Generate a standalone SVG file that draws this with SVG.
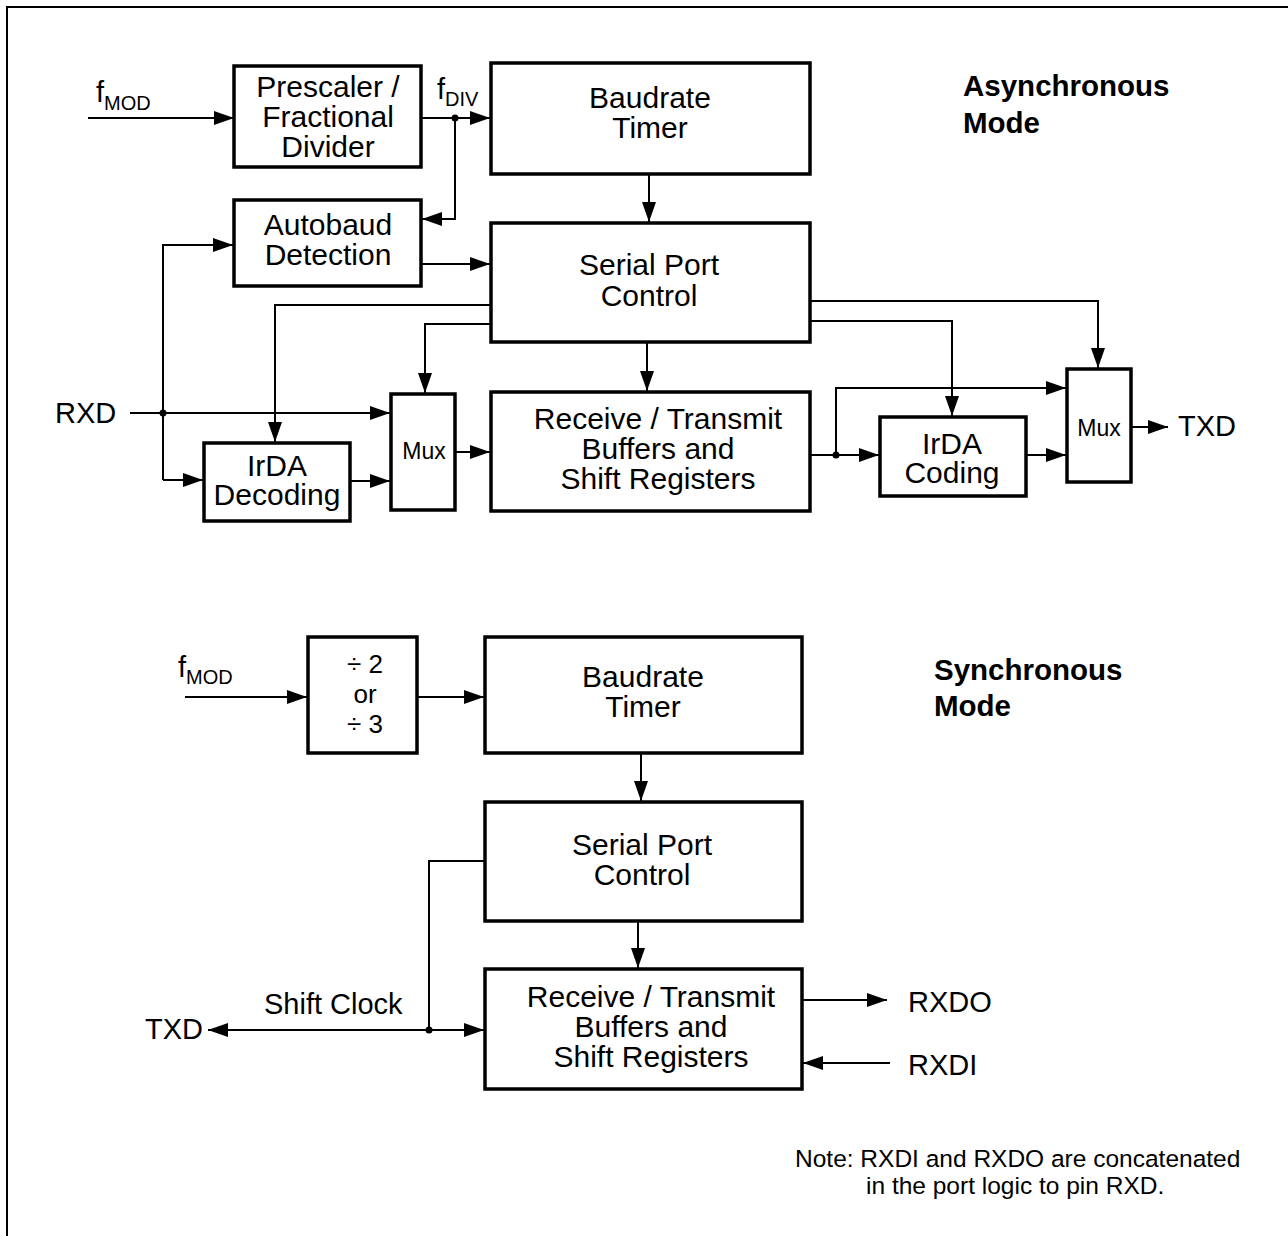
<svg xmlns="http://www.w3.org/2000/svg" width="1288" height="1236" viewBox="0 0 1288 1236">
<style>
.box{fill:#fff;stroke:#000;stroke-width:3.5}
.t{font-family:"Liberation Sans",Arial,sans-serif;font-size:30px;fill:#000;text-anchor:middle}
.ts{font-family:"Liberation Sans",Arial,sans-serif;font-size:23px;fill:#000;text-anchor:middle}
.tl{font-family:"Liberation Sans",Arial,sans-serif;font-size:29px;fill:#000}
.sub{font-size:20px}
.b{font-family:"Liberation Sans",Arial,sans-serif;font-size:29.5px;font-weight:bold;fill:#000}
.note{font-family:"Liberation Sans",Arial,sans-serif;font-size:24.5px;fill:#000}
.c{fill:none;stroke:#000;stroke-width:2}
</style>
<defs>
<marker id="a" viewBox="0 0 20 14" refX="20" refY="7" markerWidth="20" markerHeight="14" markerUnits="userSpaceOnUse" orient="auto">
<path d="M0,0 L20,7 L0,14 Z" fill="#000"/>
</marker>
</defs>
<path d="M7,1236 V7 H1288" fill="none" stroke="#000" stroke-width="2"/>

<g id="async-label"><text class="b" x="963" y="96">Asynchronous</text><text class="b" x="963" y="133">Mode</text></g>
<g id="sync-label"><text class="b" x="934" y="680">Synchronous</text><text class="b" x="934" y="716">Mode</text></g>

<g id="prescaler"><rect class="box" x="234" y="66" width="187" height="101"/>
<text class="t" x="328" y="97">Prescaler /</text><text class="t" x="328" y="127">Fractional</text><text class="t" x="328" y="157">Divider</text></g>
<g id="baudrate-async"><rect class="box" x="491" y="63" width="319" height="111"/>
<text class="t" x="650" y="108">Baudrate</text><text class="t" x="650" y="138">Timer</text></g>
<g id="autobaud"><rect class="box" x="234" y="200" width="187" height="86"/>
<text class="t" x="328" y="235">Autobaud</text><text class="t" x="328" y="265">Detection</text></g>
<g id="serial-async"><rect class="box" x="491" y="223" width="319" height="119"/>
<text class="t" x="649" y="275">Serial Port</text><text class="t" x="649" y="306">Control</text></g>
<g id="irda-dec"><rect class="box" x="204" y="443" width="146" height="78"/>
<text class="t" x="277" y="476">IrDA</text><text class="t" x="277" y="505">Decoding</text></g>
<g id="mux-left"><rect class="box" x="391" y="394" width="64" height="116"/>
<text class="ts" x="424" y="459">Mux</text></g>
<g id="rt-async"><rect class="box" x="491" y="392" width="319" height="119"/>
<text class="t" x="658" y="429">Receive / Transmit</text><text class="t" x="658" y="459">Buffers and</text><text class="t" x="658" y="489">Shift Registers</text></g>
<g id="irda-cod"><rect class="box" x="880" y="417" width="146" height="79"/>
<text class="t" x="952" y="454">IrDA</text><text class="t" x="952" y="483">Coding</text></g>
<g id="mux-right"><rect class="box" x="1067" y="369" width="64" height="113"/>
<text class="ts" x="1099" y="436">Mux</text></g>

<g id="div"><rect class="box" x="308" y="637" width="109" height="116"/>
<text class="t" x="365" y="673" style="font-size:26px">÷ 2</text><text class="t" x="365" y="703" style="font-size:26px">or</text><text class="t" x="365" y="733" style="font-size:26px">÷ 3</text></g>
<g id="baudrate-sync"><rect class="box" x="485" y="637" width="317" height="116"/>
<text class="t" x="643" y="687">Baudrate</text><text class="t" x="643" y="717">Timer</text></g>
<g id="serial-sync"><rect class="box" x="485" y="802" width="317" height="119"/>
<text class="t" x="642" y="855">Serial Port</text><text class="t" x="642" y="885">Control</text></g>
<g id="rt-sync"><rect class="box" x="485" y="969" width="317" height="120"/>
<text class="t" x="651" y="1007">Receive / Transmit</text><text class="t" x="651" y="1037">Buffers and</text><text class="t" x="651" y="1067">Shift Registers</text></g>

<g id="labels">
<text class="tl" x="96" y="102">f<tspan class="sub" dy="8">MOD</tspan></text>
<text class="tl" x="437" y="99">f<tspan class="sub" dy="7">DIV</tspan></text>
<text class="tl" x="55" y="423">RXD</text>
<text class="tl" x="1178" y="436">TXD</text>
<text class="tl" x="178" y="677">f<tspan class="sub" dy="7">MOD</tspan></text>
<text class="tl" x="264" y="1014">Shift Clock</text>
<text class="tl" x="145" y="1039">TXD</text>
<text class="tl" x="908" y="1012">RXDO</text>
<text class="tl" x="908" y="1075">RXDI</text>
<text class="note" x="795" y="1167">Note: RXDI and RXDO are concatenated</text>
<text class="note" x="866" y="1194">in the port logic to pin RXD.</text>
</g>

<g id="connectors">
<path class="c" d="M88,118 H234" marker-end="url(#a)"/>
<path class="c" d="M421,118 H490" marker-end="url(#a)"/>
<path class="c" d="M455,118 V219 H422" marker-end="url(#a)"/>
<path class="c" d="M649,174 V222" marker-end="url(#a)"/>
<path class="c" d="M421,264 H490" marker-end="url(#a)"/>
<path class="c" d="M163,480 V245 H233" marker-end="url(#a)"/>
<path class="c" d="M130,413 H390" marker-end="url(#a)"/>
<path class="c" d="M163,480 H203" marker-end="url(#a)"/>
<path class="c" d="M350,481 H390" marker-end="url(#a)"/>
<path class="c" d="M491,305 H275 V442" marker-end="url(#a)"/>
<path class="c" d="M491,324 H425 V393" marker-end="url(#a)"/>
<path class="c" d="M455,452 H490" marker-end="url(#a)"/>
<path class="c" d="M647,342 V391" marker-end="url(#a)"/>
<path class="c" d="M810,301 H1098 V368" marker-end="url(#a)"/>
<path class="c" d="M810,321 H952 V416" marker-end="url(#a)"/>
<path class="c" d="M810,455 H879" marker-end="url(#a)"/>
<path class="c" d="M836,455 V388 H1066" marker-end="url(#a)"/>
<path class="c" d="M1026,455 H1066" marker-end="url(#a)"/>
<path class="c" d="M1131,427 H1168" marker-end="url(#a)"/>
<circle cx="455" cy="118" r="3.5"/>
<circle cx="163" cy="413" r="3.5"/>
<circle cx="836" cy="455" r="3.5"/>

<path class="c" d="M185,697 H307" marker-end="url(#a)"/>
<path class="c" d="M417,697 H484" marker-end="url(#a)"/>
<path class="c" d="M641,753 V801" marker-end="url(#a)"/>
<path class="c" d="M638,921 V968" marker-end="url(#a)"/>
<path class="c" d="M485,861 H429 V1030 H484" marker-end="url(#a)"/>
<path class="c" d="M429,1030 H208" marker-end="url(#a)"/>
<path class="c" d="M802,1000 H887" marker-end="url(#a)"/>
<path class="c" d="M890,1063 H803" marker-end="url(#a)"/>
<circle cx="429" cy="1030" r="3.5"/>
</g>
</svg>
